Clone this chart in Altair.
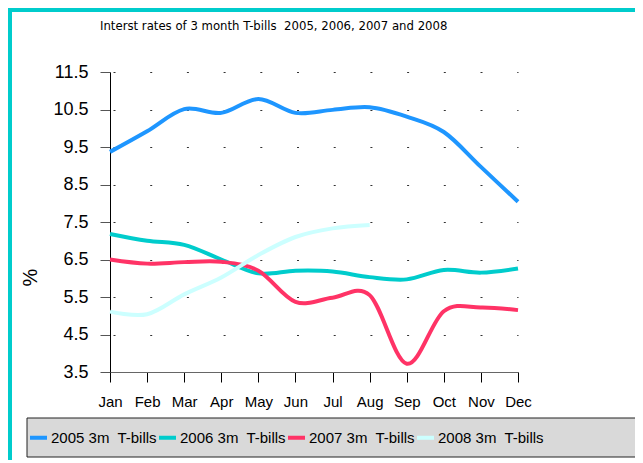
import altair as alt
import pandas as pd

months = ["Jan", "Feb", "Mar", "Apr", "May", "Jun", "Jul", "Aug", "Sep", "Oct", "Nov", "Dec"]
series = ["2005 3m  T-bills", "2006 3m  T-bills", "2007 3m  T-bills", "2008 3m  T-bills"]
colors = ["#1E96FF", "#00CCCC", "#FF3366", "#CCFFFF"]

rates_2005 = [9.37, 9.92, 10.51, 10.41, 10.78, 10.41, 10.49, 10.56, 10.31, 9.9, 8.97, 8.04]
rates_2006 = [7.18, 7.0, 6.89, 6.5, 6.13, 6.2, 6.18, 6.03, 5.97, 6.22, 6.15, 6.26]
rates_2007 = [6.5, 6.39, 6.43, 6.44, 6.2, 5.37, 5.48, 5.55, 3.72, 5.12, 5.22, 5.15]
rates_2008 = [5.11, 5.04, 5.57, 6.02, 6.62, 7.1, 7.33, 7.42]

y_ticks = [3.5, 4.5, 5.5, 6.5, 7.5, 8.5, 9.5, 10.5, 11.5]

rows = []
for name, vals in zip(series, [rates_2005, rates_2006, rates_2007, rates_2008]):
    for m, v in zip(months, vals):
        rows.append({"month": m, "rate": v, "series": name})
df = pd.DataFrame(rows)

one = pd.DataFrame({"a": [0]})

box = alt.Chart(one).mark_rect(fill="#D9D9D9", stroke="#222222", strokeWidth=1).encode(
    x=alt.value(-83), x2=alt.value(560), y=alt.value(346), y2=alt.value(385)
)

frame_left = alt.Chart(one).mark_rule(color="#00CCCC", strokeWidth=4).encode(
    x=alt.value(-100), y=alt.value(-64), y2=alt.value(400)
)
frame_top = alt.Chart(one).mark_rule(color="#00CCCC", strokeWidth=4).encode(
    x=alt.value(-102), x2=alt.value(560), y=alt.value(-62)
)

lines = alt.Chart(df).mark_line(strokeWidth=4, interpolate="cardinal").encode(
    x=alt.X("month:O", sort=months, scale=alt.Scale(type="point", padding=0),
            axis=alt.Axis(title=None, labelAngle=0, labelFontSize=15, labelPadding=12,
                          labelColor="#000000", labelFont="Liberation Sans",
                          tickSize=10, tickColor="#000000", domainColor="#666666",
                          grid=False)),
    y=alt.Y("rate:Q", scale=alt.Scale(domain=[3.5, 11.5], nice=False, zero=False),
            axis=alt.Axis(values=y_ticks, format=".1f", title="%", labelFontSize=18,
                          labelPadding=12, labelColor="#000000", labelFont="Liberation Sans",
                          tickSize=10, tickColor="#555555", domainColor="#000000",
                          grid=True, gridColor="#333333", gridDash=[2, 34.7],
                          gridDashOffset=-3, gridWidth=1.2,
                          titleFontSize=20, titleFontWeight="normal", titleFont="Liberation Sans",
                          titleColor="#000000", titleX=-80, titleY=205, titleAngle=270,
                          titleAlign="center", titleBaseline="middle")),
    color=alt.Color("series:N", sort=series,
                    scale=alt.Scale(domain=series, range=colors),
                    legend=alt.Legend(title=None, orient="none", legendX=-82, legendY=355,
                                      direction="horizontal", symbolType="stroke",
                                      symbolStrokeWidth=4, symbolSize=289,
                                      labelFontSize=15, labelFont="Liberation Sans",
                                      labelColor="#000000", labelOffset=2,
                                      columnPadding=-6,
                                      labelExpr="replace(datum.label, '  ', '\u00a0 ')")),
)

chart = alt.layer(box, frame_left, frame_top, lines).properties(
    width=408, height=300,
    autosize=alt.AutoSizeParams(type="none"),
    padding={"left": 102, "top": 64, "right": 117, "bottom": 88},
    title=alt.TitleParams("Interst rates of 3 month T-bills\u00a0 2005, 2006, 2007 and 2008",
                          anchor="start", frame="group", dx=-10, fontSize=13,
                          font="Liberation Sans Narrow, DejaVu Sans Condensed, sans-serif",
                          fontWeight="normal", color="#000000", offset=-27),
).configure_view(stroke=None)

chart.save("out.html", embed_options={"renderer": "svg", "actions": False})
